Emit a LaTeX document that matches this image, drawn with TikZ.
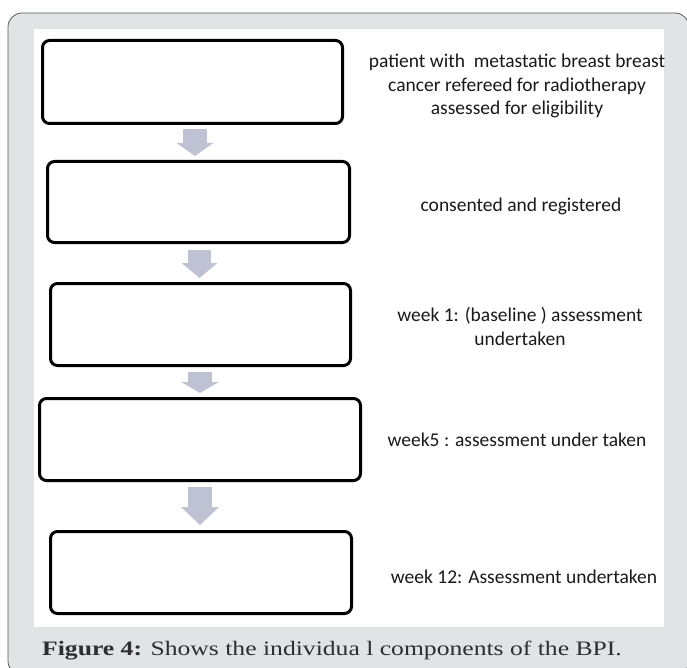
\documentclass[tikz,border=0pt]{standalone}
\usepackage{fontspec}
\setmainfont{Liberation Serif}
\newfontfamily\gill{Carlito}
\usetikzlibrary{arrows.meta}
\definecolor{framegray}{HTML}{E1E4E5}
\definecolor{frameline}{HTML}{5A5A5A}
\definecolor{arrowgray}{HTML}{BEC2D3}
\definecolor{captext}{HTML}{2E2E2E}
\begin{document}
\begin{tikzpicture}[x=1pt,y=-1pt,
  box/.style={draw=black, line width=3pt, rounded corners=7pt, fill=white,
    inner sep=0pt, outer sep=0pt},
  sidetext/.style={font=\gill\fontsize{19.5}{23.5}\selectfont, align=center,
    text=black!90, inner sep=0pt},
  blockarrow/.style={draw=arrowgray, line width=#1},
]
\useasboundingbox (0,0) rectangle (687,668);
\clip (0,0) rectangle (687,668);
% frame and panel
\draw[draw=frameline, line width=0.8pt, fill=framegray, rounded corners=14pt]
  (8,13) rectangle (689,675);
\fill[white] (34,29) rectangle (664,627);
% boxes
\node[box, minimum width=300pt, minimum height=83pt] (b1) at (192.5,82) {};
\node[box, minimum width=302pt, minimum height=81pt] (b2) at (198.5,202) {};
\node[box, minimum width=300pt, minimum height=82pt] (b3) at (200.5,324.5) {};
\node[box, minimum width=321pt, minimum height=82pt] (b4) at (200,439.5) {};
\node[box, minimum width=301pt, minimum height=82pt] (b5) at (201,572.5) {};
% block arrows
\draw[blockarrow=24pt, -{Triangle[width=36pt,length=13pt]}, arrowgray]
  ([xshift=2.5pt,yshift=-5.5pt]b1.south) -- ([xshift=-3.5pt,yshift=5.5pt]b2.north);
\draw[blockarrow=23pt, -{Triangle[width=35pt,length=15pt]}, arrowgray]
  ([xshift=1pt,yshift=-7.5pt]b2.south) -- ([xshift=-1pt,yshift=5.5pt]b3.north);
\draw[blockarrow=24pt, -{Triangle[width=37pt,length=11pt]}, arrowgray]
  ([xshift=-0.5pt,yshift=-6.5pt]b3.south) -- ([yshift=5.5pt]b4.north);
\draw[blockarrow=24pt, -{Triangle[width=37pt,length=18pt]}, arrowgray]
  ([yshift=-6.5pt]b4.south) -- ([xshift=-1pt,yshift=6.5pt]b5.north);
% side texts
\node[sidetext] (t1) at (517,86) {patient with\ \ metastatic breast breast\\cancer refereed for radiotherapy\\assessed for eligibility};
\node[sidetext] (t2) at (521,206) {consented and registered};
\node[sidetext] (t3) at (520,326.5) {week 1: (baseline ) assessment\\undertaken};
\node[sidetext] (t4) at (517,440) {week5 : assessment under taken};
\node[sidetext] (t5) at (524,577) {week 12: Assessment undertaken};
% caption
\node[anchor=base west, inner sep=0pt, text=captext, font=\fontsize{20.5}{24}\selectfont]
  (cap) at (42,655) {\scalebox{1.25}[1]{\textbf{Figure 4:} Shows the individua l components of the BPI.}};
\end{tikzpicture}
\end{document}
